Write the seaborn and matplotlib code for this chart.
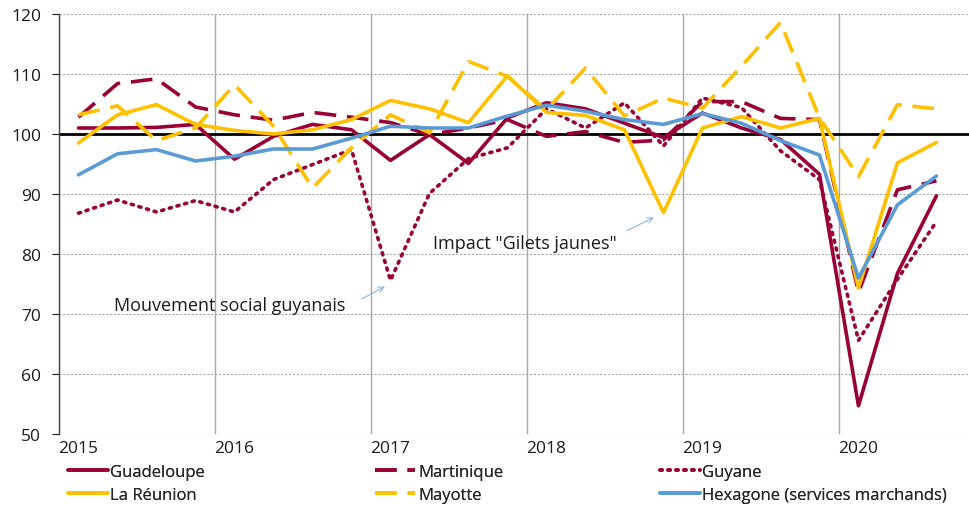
import matplotlib
matplotlib.use("Agg")
import matplotlib.pyplot as plt
import seaborn as sns
import pandas as pd
import numpy as np

# quarterly index, 2015 Q1 .. 2020 Q3
quarters = list(range(23))
year_labels = ["2015", "2016", "2017", "2018", "2019", "2020"]

guadeloupe = [101.0, 101.0, 101.1, 101.6, 95.8, 99.6, 101.6, 100.7, 95.6, 99.9, 95.1, 102.7,
              105.2, 104.2, 101.8, 99.4, 103.5, 101.0, 99.1, 93.3, 54.7, 76.8, 89.7]
martinique = [102.8, 108.4, 109.2, 104.5, 103.2, 102.3, 103.6, 102.8, 101.9, 99.9, 101.0, 102.4,
              99.6, 100.4, 98.6, 99.0, 105.4, 105.4, 102.6, 102.4, 73.6, 90.7, 92.2]
guyane = [86.8, 89.0, 87.0, 88.9, 87.0, 92.4, 94.9, 97.4, 75.6, 90.1, 95.9, 97.7,
          104.2, 101.0, 105.2, 98.0, 106.0, 104.4, 97.2, 92.4, 65.6, 75.8, 85.4]
reunion = [98.5, 103.2, 104.9, 101.6, 100.6, 100.0, 100.7, 102.4, 105.6, 104.2, 101.9, 109.7,
           103.6, 103.1, 100.7, 86.9, 101.0, 102.9, 101.0, 102.6, 74.3, 95.2, 98.6]
mayotte = [103.2, 104.7, 98.9, 101.0, 108.2, 101.3, 91.0, 97.7, 103.2, 100.2, 112.1, 109.6,
           104.0, 111.0, 103.0, 106.0, 104.3, 111.3, 118.6, 102.7, 92.9, 104.9, 104.2]
hexagone = [93.2, 96.7, 97.4, 95.5, 96.3, 97.5, 97.5, 99.3, 101.3, 101.0, 101.0, 103.0,
            104.8, 103.8, 102.4, 101.6, 103.4, 101.8, 98.9, 96.5, 76.0, 88.2, 93.0]

names = ["Guadeloupe", "Martinique", "Guyane", "La Réunion", "Mayotte",
         "Hexagone (services marchands)"]
series = [guadeloupe, martinique, guyane, reunion, mayotte, hexagone]

red = "#990036"
yellow = "#FFC000"
blue = "#5B9BD5"
styles = {
    "Guadeloupe": (red, "-"),
    "Martinique": (red, (0, (6, 3))),
    "Guyane": (red, (0, (0.6, 1.6))),
    "La Réunion": (yellow, "-"),
    "Mayotte": (yellow, (0, (6, 3))),
    "Hexagone (services marchands)": (blue, "-"),
}

df = pd.DataFrame({"q": quarters * len(names),
                   "value": sum(series, []),
                   "serie": np.repeat(names, len(quarters))})

sns.set_style("white")
plt.rcParams["font.family"] = ["Open Sans", "DejaVu Sans"]

fig = plt.figure(figsize=(9.7, 5.06), dpi=100)
ax = fig.add_axes([59 / 970, 71 / 506, 911 / 970, 420 / 506])

# grid
for v in range(50, 121, 10):
    ax.axhline(v, color="#A6A6A6", lw=0.8, ls=(0, (2, 1.5)), zorder=0)
for xv in [3.5, 7.5, 11.5, 15.5, 19.5]:
    ax.axvline(xv, color="#A6A6A6", lw=1, zorder=0)
ax.axhline(100, color="black", lw=2, zorder=1)

for name in names:
    color, ls = styles[name]
    sub = df[df["serie"] == name]
    sns.lineplot(data=sub, x="q", y="value", ax=ax, color=color, lw=2.6,
                 label=name, legend=False)
    l = ax.lines[-1]
    l.set_linestyle(ls)
    if name == "Guyane":
        l.set_dash_capstyle("round")
    l.set_zorder(3)

ax.set_xlim(-0.5, 22.86)
ax.set_ylim(50, 120)
ax.set_yticks(range(50, 121, 10))
ax.set_xticks([0, 4, 8, 12, 16, 20])
ax.set_xticklabels(year_labels)
ax.set_xlabel("")
ax.set_ylabel("")
ax.tick_params(axis="both", labelsize=12.5, colors="#1a1a1a", length=5, width=0.8)
ax.tick_params(axis="x", length=0, pad=4)
ax.tick_params(axis="y", direction="out", left=True, pad=8)
for s in ["top", "right", "bottom"]:
    ax.spines[s].set_visible(False)
ax.spines["left"].set_color("#404040")
ax.spines["left"].set_linewidth(1)

# annotations
ax.annotate("", xy=(7.92, 74.8), xytext=(7.2, 72.3),
            arrowprops=dict(arrowstyle="->", color="#8EB4E3", lw=0.8))
ax.text(0.9, 71.5, "Mouvement social guyanais", fontsize=13, color="#1a1a1a", va="center")
ax.annotate("", xy=(14.82, 86.3), xytext=(14.0, 83.7),
            arrowprops=dict(arrowstyle="->", color="#8EB4E3", lw=0.8))
ax.text(9.08, 81.8, "Impact \"Gilets jaunes\"", fontsize=13, color="#1a1a1a", va="center")

# legend: three columns of two entries
handles = {l.get_label(): l for l in ax.lines if l.get_label() in names}
cols = [["Guadeloupe", "La Réunion"], ["Martinique", "Mayotte"],
        ["Guyane", "Hexagone (services marchands)"]]
xs = [0.070, 0.387, 0.680]
for cx, col in zip(xs, cols):
    leg = fig.legend([handles[n] for n in col], col, loc="upper left",
                     bbox_to_anchor=(cx, 0.082), frameon=False, fontsize=12,
                     handlelength=2.4, handletextpad=0.15, labelspacing=0.42,
                     borderaxespad=0, borderpad=0)
    fig.add_artist(leg)

fig.savefig("out.png", dpi=100)
